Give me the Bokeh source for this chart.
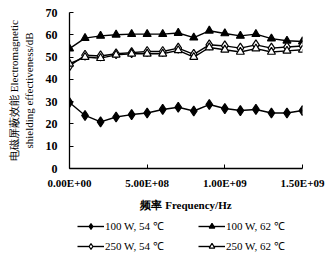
from bokeh.plotting import figure
from bokeh.layouts import column
from bokeh.models import Legend, LegendItem, Range1d, FixedTicker
from bokeh.embed import file_html
from bokeh.resources import INLINE

freq = [0, 1e8, 2e8, 3e8, 4e8, 5e8, 6e8, 7e8, 8e8, 9e8, 1.0e9, 1.1e9, 1.2e9, 1.3e9, 1.4e9, 1.5e9]
se_100_54 = [29.6, 23.8, 20.9, 23.1, 24.2, 24.9, 26.5, 27.5, 25.8, 28.7, 26.9, 26.0, 26.5, 24.9, 24.9, 26.0]
se_100_62 = [53.8, 58.5, 59.5, 60.0, 60.3, 60.3, 60.3, 60.8, 58.7, 61.8, 60.6, 59.5, 60.3, 58.3, 57.3, 57.0]
se_250_54 = [46.0, 50.8, 50.5, 51.5, 52.0, 52.5, 52.5, 54.0, 51.2, 55.5, 55.0, 54.0, 55.5, 54.0, 54.5, 55.0]
se_250_62 = [47.0, 50.0, 49.5, 51.0, 51.5, 51.5, 51.5, 53.0, 50.0, 54.3, 53.3, 52.3, 53.8, 52.3, 52.8, 53.3]

labels = ["100 W, 54 \u2103", "100 W, 62 \u2103", "250 W, 54 \u2103", "250 W, 62 \u2103"]
x_ticks = [0, 5e8, 1e9, 1.5e9]
x_tick_labels = ["0.00E+00", "5.00E+08", "1.00E+09", "1.50E+09"]
y_ticks = [0, 10, 20, 30, 40, 50, 60, 70]

SERIF = "Liberation Serif"

p = figure(frame_width=233, frame_height=156, output_backend="svg", toolbar_location=None,
           x_range=Range1d(0, 1.5e9), y_range=Range1d(0, 70),
           min_border_left=69, min_border_right=25, min_border_top=12, min_border_bottom=50)
p.outline_line_color = None
p.grid.visible = False
p.background_fill_color = "white"
p.border_fill_color = "white"

for ax in (p.xaxis[0], p.yaxis[0]):
    ax.axis_line_color = "black"
    ax.axis_line_width = 1.3
    ax.major_tick_in = 4
    ax.major_tick_out = 0
    ax.minor_tick_line_color = None
    ax.major_tick_line_color = "black"
    ax.major_label_text_font = SERIF
    ax.major_label_text_font_style = "bold"
    ax.major_label_text_color = "black"
    ax.axis_label_text_font = SERIF
    ax.axis_label_text_color = "black"
    ax.axis_label_text_font_style = "normal"

p.xaxis.ticker = FixedTicker(ticks=x_ticks)
p.xaxis.major_label_overrides = {t: l for t, l in zip(x_ticks, x_tick_labels)}
p.xaxis.major_label_text_font_size = "11px"
p.xaxis.axis_label = "频率 Frequency/Hz"
p.xaxis.axis_label_text_font_size = "11px"
p.xaxis.axis_label_text_font_style = "bold"
p.xaxis.major_label_standoff = 8
p.xaxis.axis_label_standoff = 7

p.yaxis.ticker = FixedTicker(ticks=y_ticks)
p.yaxis.major_label_text_font_size = "12px"
p.yaxis.axis_label = "电磁屏蔽效能 Electromagnetic\nshielding effectiveness/dB"
p.yaxis.axis_label_text_font_size = "11px"
p.yaxis.major_label_standoff = 12
p.yaxis.axis_label_standoff = 8

series = [
    (se_100_54, "diamond", "black", 10),
    (se_100_62, "triangle", "black", 8),
    (se_250_54, "diamond", "white", 10),
    (se_250_62, "triangle", "white", 8),
]
for ys, mk, fill, sz in series:
    p.line(freq, ys, line_color="black", line_width=1.4)
    p.scatter(freq, ys, marker=mk, size=sz, fill_color=fill, line_color="black", line_width=1.2)

# legend panel below the chart (its data lie outside its view; only the legend shows)
pl = figure(width=327, height=40, output_backend="svg", toolbar_location=None,
            x_range=Range1d(0, 1), y_range=Range1d(0, 1),
            min_border_left=0, min_border_right=0, min_border_top=0, min_border_bottom=0)
pl.axis.visible = False
pl.grid.visible = False
pl.outline_line_color = None
pl.background_fill_color = "white"
pl.border_fill_color = "white"

items = []
for (ys, mk, fill, sz), lab in zip(series, labels):
    r1 = pl.line(freq, ys, line_color="black", line_width=1.4)
    r2 = pl.scatter(freq, ys, marker=mk, size=sz - 1, fill_color=fill, line_color="black", line_width=1.2)
    items.append(LegendItem(label=lab, renderers=[r1, r2]))

def make_legend(its, loc):
    lg = Legend(items=its, location=loc, orientation="vertical")
    lg.border_line_color = None
    lg.background_fill_alpha = 0
    lg.label_text_font = SERIF
    lg.label_text_font_size = "11px"
    lg.label_text_color = "black"
    lg.glyph_width = 27
    lg.glyph_height = 14
    lg.label_height = 14
    lg.label_standoff = 1
    lg.spacing = 5
    lg.padding = 0
    lg.margin = 0
    return lg

pl.add_layout(make_legend([items[0], items[2]], (8, 5)))
pl.add_layout(make_legend([items[1], items[3]], (129, 5)))

open("out.html", "w").write(file_html(column(p, pl), INLINE))
